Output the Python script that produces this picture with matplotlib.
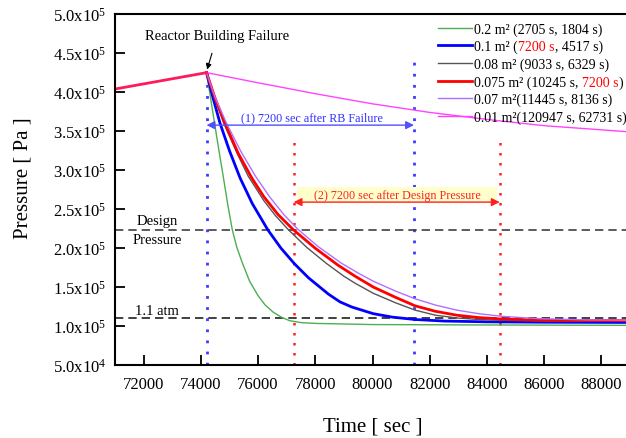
import numpy as np
import matplotlib
matplotlib.use('Agg')
import matplotlib.pyplot as plt
from matplotlib.ticker import FuncFormatter

plt.rcParams['font.family'] = ['Liberation Serif', 'DejaVu Serif']
plt.rcParams['mathtext.fontset'] = 'custom'
plt.rcParams['mathtext.rm'] = 'Liberation Serif'
plt.rcParams['mathtext.it'] = 'Liberation Serif:italic'

# 데이터
pre_t = [71000, 74200]
pre_p = [4.04e5, 4.25e5]

t_02 = [74200, 74567, 74800, 74950, 75100, 75250, 75441, 75700, 76001, 76250, 76525, 76840, 77100, 77500, 78000, 80000, 84000, 89000]
p_02 = [4.25e5, 3.40e5, 2.88e5, 2.54e5, 2.235e5, 2.02e5, 1.82e5, 1.58e5, 1.39e5, 1.27e5, 1.18e5, 1.11e5, 1.07e5, 1.045e5, 1.035e5, 1.02e5, 1.015e5, 1.01e5]

t_01 = [74200, 74400, 74672, 75000, 75371, 75800, 76340, 76800, 77271, 77761, 78461, 78868, 79277, 80023, 80700, 81490, 82500, 84000, 86000, 89000]
p_01 = [4.25e5, 3.96e5, 3.60e5, 3.25e5, 2.90e5, 2.57e5, 2.235e5, 2.00e5, 1.80e5, 1.62e5, 1.41e5, 1.31e5, 1.245e5, 1.16e5, 1.115e5, 1.085e5, 1.065e5, 1.055e5, 1.05e5, 1.047e5]

t_008 = [74200, 74500, 74800, 75300, 75660, 76200, 76600, 77062, 77700, 78403, 79000, 79392, 80033, 80800, 81490, 82200, 82948, 83700, 84500, 86000, 89000]
p_008 = [4.25e5, 3.91e5, 3.60e5, 3.19e5, 2.92e5, 2.61e5, 2.42e5, 2.235e5, 2.01e5, 1.80e5, 1.64e5, 1.55e5, 1.42e5, 1.30e5, 1.205e5, 1.14e5, 1.105e5, 1.085e5, 1.075e5, 1.065e5, 1.06e5]

t_0075 = [74200, 74500, 74847, 75300, 75780, 76200, 76700, 77236, 77994, 78800, 79392, 80033, 80800, 81490, 82200, 82948, 83700, 84544, 86000, 89000]
p_0075 = [4.25e5, 3.92e5, 3.60e5, 3.22e5, 2.90e5, 2.66e5, 2.43e5, 2.235e5, 2.00e5, 1.78e5, 1.64e5, 1.50e5, 1.37e5, 1.26e5, 1.19e5, 1.14e5, 1.11e5, 1.09e5, 1.075e5, 1.07e5]

t_007 = [74200, 74500, 74900, 75400, 75896, 76400, 76900, 77412, 78100, 78900, 79500, 80033, 80800, 81490, 82200, 82948, 83700, 84544, 85862, 87500, 89000]
p_007 = [4.25e5, 3.93e5, 3.60e5, 3.24e5, 2.93e5, 2.66e5, 2.43e5, 2.235e5, 2.02e5, 1.81e5, 1.68e5, 1.575e5, 1.45e5, 1.35e5, 1.27e5, 1.205e5, 1.16e5, 1.125e5, 1.095e5, 1.08e5, 1.075e5]

t_001 = [74200, 76000, 78000, 80000, 82000, 84000, 86000, 89000]
p_001 = [4.25e5, 4.12e5, 3.98e5, 3.85e5, 3.74e5, 3.65e5, 3.57e5, 3.49e5]

labels = ['0.2 m² (2705 s, 1804 s)',
          '0.1 m² (',
          '0.08 m² (9033 s, 6329 s)',
          '0.075 m² (10245 s, ',
          '0.07 m²(11445 s, 8136 s)',
          '0.01 m²(120947 s, 62731 s)']

t_fail = 74200
t_rb_end = 81450
t_dp = 77245
t_dp_end = 84445
p_design = 2.235e5
p_atm = 1.1e5

fig = plt.figure(figsize=(6.26, 4.39), dpi=100)
ax = fig.add_axes([0.1837, 0.166, 0.8227, 0.7995])

# 수직 점선
ax.plot([t_fail, t_fail], [5.0e4, 4.46e5], color='#3b3bff', ls=(0, (1, 3)), lw=2)
ax.plot([t_rb_end, t_rb_end], [5.0e4, 4.46e5], color='#3b3bff', ls=(0, (1, 3)), lw=2)
ax.plot([t_dp, t_dp], [5.0e4, 3.40e5], color='#ff2020', ls=(0, (1, 3)), lw=1.8)
ax.plot([t_dp_end, t_dp_end], [5.0e4, 3.40e5], color='#ff2020', ls=(0, (1, 3)), lw=1.8)

# 수평 점선
ax.axhline(p_design, color='#404040', ls=(0, (5, 3)), lw=1.2)
ax.axhline(p_atm, color='#202020', ls=(0, (5, 3)), lw=1.2)

ax.plot(t_02, p_02, color='#4caf50', lw=1.0, label=labels[0])
ax.plot(t_01, p_01, color='#0000ff', lw=2.0, label=labels[1])
ax.plot(t_008, p_008, color='#555555', lw=1.0, label=labels[2])
ax.plot(t_0075, p_0075, color='#ff0000', lw=2.0, label=labels[3])
ax.plot(t_007, p_007, color='#b070ff', lw=1.0, label=labels[4])
ax.plot(t_001, p_001, color='#ff44ff', lw=1.0, label=labels[5])
ax.plot(pre_t, pre_p, color='#ff1a5a', lw=2.0)

ax.set_xlim(71000, 89000)
ax.set_ylim(5.0e4, 5.0e5)
ax.set_xticks(np.arange(72000, 89000, 2000))
ax.set_yticks(np.arange(5.0e4, 5.01e5, 5.0e4))

def fmt(v, pos):
    e = int(np.floor(np.log10(v)))
    return f'{v / 10**e:.1f}x10$^{{{e}}}$'

ax.yaxis.set_major_formatter(FuncFormatter(fmt))
ax.tick_params(direction='in', length=7, width=1.3, labelsize=12, top=False, right=False)
ax.tick_params(axis='y', pad=6)
ax.tick_params(axis='x', pad=8)
for s in ['left', 'bottom', 'top']:
    ax.spines[s].set_linewidth(1.5)
ax.spines['right'].set_visible(False)

ax.set_xlabel('Time [ sec ]', fontsize=15)
ax.set_ylabel('Pressure [ Pa ]', fontsize=15)
ax.xaxis.set_label_coords(0.5, -0.145)
ax.yaxis.set_label_coords(-0.16, 0.535)

# 주석
ax.annotate('Reactor Building Failure', xy=(74220, 4.29e5), xytext=(74570, 4.72e5),
            ha='center', va='center', fontsize=10.5,
            arrowprops=dict(arrowstyle='-|>', color='k', lw=0.8, mutation_scale=8,
                            shrinkA=6, shrinkB=0))
ax.annotate('', xy=(t_fail, 3.577e5), xytext=(t_rb_end, 3.577e5),
            arrowprops=dict(arrowstyle='<|-|>', color='#5050ff', lw=1.0, mutation_scale=12,
                            shrinkA=0, shrinkB=0))
ax.text(77900, 3.68e5, '(1) 7200 sec after RB Failure', color='#3030ff', fontsize=8.7,
        ha='center', va='center')
ax.text(80860, 2.68e5, '     (2) 7200 sec after Design Pressure     ', color='#ff2020',
        fontsize=8.7, ha='center', va='center',
        bbox=dict(boxstyle='square,pad=0.15', fc='#ffffcc', ec='none'))
ax.annotate('', xy=(t_dp, 2.59e5), xytext=(t_dp_end, 2.59e5),
            arrowprops=dict(arrowstyle='<|-|>', color='#ff2020', lw=1.0, mutation_scale=12,
                            shrinkA=0, shrinkB=0))
ax.text(72470, 2.36e5, 'Design', fontsize=10.5, ha='center', va='center')
ax.text(72470, 2.11e5, 'Pressure', fontsize=10.5, ha='center', va='center')
ax.text(72470, 1.20e5, '1.1 atm', fontsize=10.5, ha='center', va='center')

leg = ax.legend(loc='upper right', bbox_to_anchor=(1.0, 0.985), frameon=False,
                fontsize=10, handlelength=2.4, handletextpad=0.2, labelspacing=0.3,
                borderaxespad=0, borderpad=0.2)
texts = leg.get_texts()
fig.canvas.draw()
# 빨간 글씨 부분 이어붙이기
a = ax.annotate('7200 s', xy=(1, 0), xycoords=texts[1], va='bottom', ha='left',
                color='#ff0000', fontsize=10)
ax.annotate(', 4517 s)', xy=(1, 0), xycoords=a, va='bottom', ha='left',
            color='k', fontsize=10)
b = ax.annotate('7200 s', xy=(1, 0), xycoords=texts[3], va='bottom', ha='left',
                color='#ff0000', fontsize=10)
ax.annotate(')', xy=(1, 0), xycoords=b, va='bottom', ha='left', color='k', fontsize=10)

fig.savefig('out.png', dpi=100)
